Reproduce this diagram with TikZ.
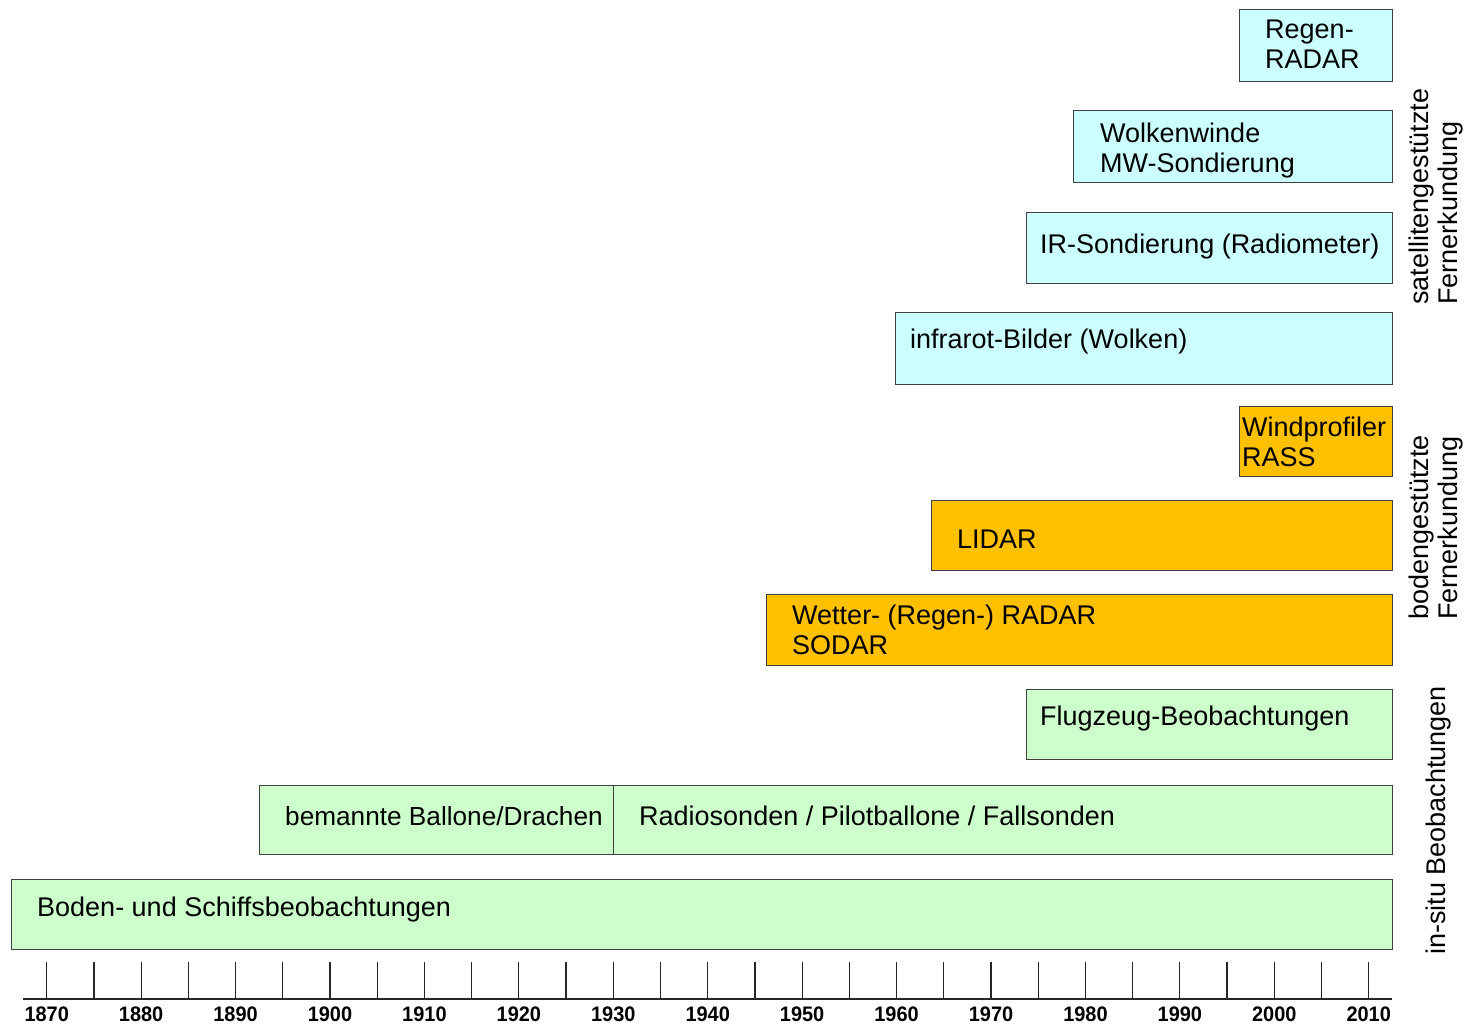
\documentclass[tikz,border=0pt]{standalone}
\usepackage{fontspec}
\setmainfont{Liberation Sans}
\definecolor{cyanfill}{HTML}{CCFFFF}
\definecolor{orangefill}{HTML}{FFC000}
\definecolor{greenfill}{HTML}{CCFFCC}
\begin{document}
\begin{tikzpicture}[x=1pt,y=-1pt,
  bx/.style={draw=black!75, line width=1.2pt, anchor=north west, inner sep=0pt},
  lbl/.style={anchor=west, inner sep=0pt, align=left, font=\fontsize{27}{30}\selectfont},
  side/.style={rotate=90, anchor=west, inner sep=0pt, align=left, font=\fontsize{27}{28.5}\selectfont},
  yr/.style={inner sep=0pt, xscale=0.95, font=\bfseries\fontsize{21}{22}\selectfont},
  tick/.style={line width=1.2pt, draw=black!85}]
\useasboundingbox (0,0) rectangle (1466,1026);
\fill[white] (0,0) rectangle (1466,1026);

% boxes
\node[bx, fill=cyanfill, minimum width=153pt, minimum height=72pt] (b1) at (1239,9) {};
\node[bx, fill=cyanfill, minimum width=319pt, minimum height=72pt] (b2) at (1073,110) {};
\node[bx, fill=cyanfill, minimum width=366pt, minimum height=71pt] (b3) at (1026,212) {};
\node[bx, fill=cyanfill, minimum width=497pt, minimum height=72pt] (b4) at (895,312) {};
\node[bx, fill=orangefill, minimum width=153pt, minimum height=70pt] (b5) at (1239,406) {};
\node[bx, fill=orangefill, minimum width=461pt, minimum height=70pt] (b6) at (931,500) {};
\node[bx, fill=orangefill, minimum width=626pt, minimum height=71pt] (b7) at (766,594) {};
\node[bx, fill=greenfill, minimum width=366pt, minimum height=70pt] (b8) at (1026,689) {};
\node[bx, fill=greenfill, minimum width=354pt, minimum height=69pt] (b9) at (259,785) {};
\node[bx, fill=greenfill, minimum width=779pt, minimum height=69pt] (b10) at (613,785) {};
\node[bx, fill=greenfill, minimum width=1381pt, minimum height=70pt] (b11) at (11,879) {};

% labels
\node[lbl] (t1) at (1265,44) {Regen-\\RADAR};
\node[lbl] (t2) at (1100,150.5) {Wolkenwinde\\MW-Sondierung};
\node[lbl] (t3) at (1040,247) {IR-Sondierung (Radiometer)};
\node[lbl] (t4) at (910,342) {infrarot-Bilder (Wolken)};
\node[lbl] (t5) at (1242,442) {Windprofiler\\RASS};
\node[lbl] (t6) at (957,539) {LIDAR};
\node[lbl] (t7) at (792,630) {Wetter- (Regen-) RADAR\\SODAR};
\node[lbl] (t8) at (1040,719) {Flugzeug-Beobachtungen};
\node[lbl, font=\fontsize{26.2}{30}\selectfont] (t9) at (285,816) {bemannte Ballone/Drachen};
\node[lbl] (t10) at (639,816) {Radiosonden / Pilotballone / Fallsonden};
\node[lbl] (t11) at (37,910) {Boden- und Schiffsbeobachtungen};

% side labels
\node[side] (s1) at (1436,305) {satellitengestützte\\Fernerkundung};
\node[side] (s2) at (1436,620) {bodengestützte\\Fernerkundung};
\node[side] (s3) at (1438,955) {in-situ Beobachtungen};

% axis
\coordinate (axL) at (23,999);
\coordinate (axR) at (1392,999);
\draw[tick] (axL) -- (axR);
\foreach \i in {0,...,28} {
  \draw[tick] (46.7+\i*47.215,962) -- (46.7+\i*47.215,999);
}
\foreach \i in {0,...,14} {
  \pgfmathtruncatemacro\yrv{1870+10*\i}
  \node[yr] (y\i) at (46.7+\i*94.43,1014) {\yrv};
}
\end{tikzpicture}
\end{document}
